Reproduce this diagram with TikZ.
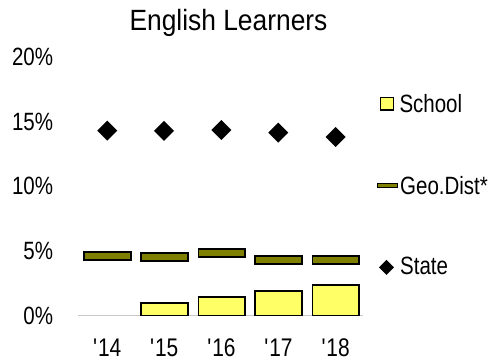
\documentclass[tikz,border=0pt]{standalone}
\usepackage{fontspec}
\setmainfont{Liberation Sans}
\newfontfamily\chartfont[FakeStretch=0.82]{Liberation Sans}
\newfontfamily\charttitlefont[FakeStretch=0.9]{Liberation Sans}
\definecolor{schoolyellow}{HTML}{FFFF66}
\definecolor{geoolive}{HTML}{7F7F00}
\definecolor{axisgray}{HTML}{C8C8C8}
\begin{document}
\begin{tikzpicture}[x=1pt,y=-1pt,
  lbl/.style={inner sep=0pt, font=\chartfont\fontsize{25}{25}\selectfont},
  catlbl/.style={inner sep=0pt, font=\chartfont\fontsize{25.5}{25.5}\selectfont},
  schoolbar/.style={fill=schoolyellow, draw=black, line width=1.8pt},
  geobar/.style={fill=geoolive, draw=black, line width=1.8pt},
  statemark/.style={fill=black}]
\useasboundingbox (0,0) rectangle (491,358);

% title
\node[anchor=base, inner sep=0pt, font=\charttitlefont\fontsize{29.3}{30}\selectfont] (title) at (228.5,31) {English Learners};

% y axis labels
\node[lbl, anchor=base east] (y20) at (53.3,65.8) {20\%};
\node[lbl, anchor=base east] (y15) at (53.3,130.4) {15\%};
\node[lbl, anchor=base east] (y10) at (53.3,195.0) {10\%};
\node[lbl, anchor=base east] (y5) at (53.3,259.6) {5\%};
\node[lbl, anchor=base east] (y0) at (53.3,324.2) {0\%};

% axis line
\draw[axisgray, line width=1.5pt] (78,315.5) -- (363,315.5);

% school bars
\draw[schoolbar] (141.1,302.9) rectangle (187.7,315.5);
\draw[schoolbar] (198.4,297.2) rectangle (245.0,315.5);
\draw[schoolbar] (255.2,291.2) rectangle (301.8,315.5);
\draw[schoolbar] (312.5,284.9) rectangle (359.1,315.5);

% geo district bars
\draw[geobar] (84.2,251.9) rectangle (130.8,259.8);
\draw[geobar] (141.1,253.2) rectangle (187.7,261.1);
\draw[geobar] (198.4,249.2) rectangle (245.0,257.1);
\draw[geobar] (255.2,255.9) rectangle (301.8,263.8);
\draw[geobar] (312.5,256.2) rectangle (359.1,264.4);

% state markers
\foreach \x/\y in {107.3/130.7, 164.0/131.0, 221.3/130.0, 278.3/132.7, 335.7/137.0}{
  \fill[statemark] (\x,\y-10) -- (\x+10,\y) -- (\x,\y+10) -- (\x-10,\y) -- cycle;
}

% category labels
\node[catlbl, anchor=base] (c14) at (107.3,356.3) {\textquotesingle 14};
\node[catlbl, anchor=base] (c15) at (164.3,356.3) {\textquotesingle 15};
\node[catlbl, anchor=base] (c16) at (221.5,356.3) {\textquotesingle 16};
\node[catlbl, anchor=base] (c17) at (278.5,356.3) {\textquotesingle 17};
\node[catlbl, anchor=base] (c18) at (335.7,356.3) {\textquotesingle 18};

% legend
\draw[fill=schoolyellow, draw=black, line width=1.4pt] (380.7,97.4) rectangle (393.3,110.0);
\node[lbl, anchor=base west] (legschool) at (399.3,112.3) {School};
\draw[fill=geoolive, draw=black, line width=0.8pt] (377.7,183.6) rectangle (397.0,187.0);
\node[lbl, anchor=base west] (leggeo) at (400,195) {Geo.Dist*};
\fill[statemark] (386.5,260) -- (394,267.5) -- (386.5,275) -- (379,267.5) -- cycle;
\node[lbl, anchor=base west] (legstate) at (400,274.5) {State};
\end{tikzpicture}
\end{document}
